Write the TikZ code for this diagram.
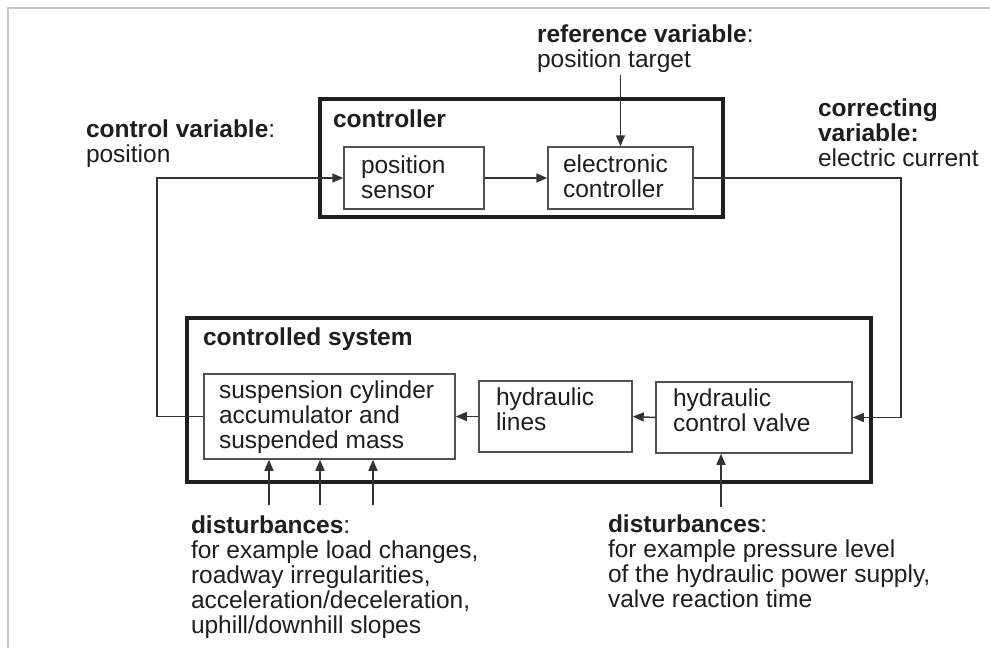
\documentclass[tikz,border=0pt]{standalone}
\usepackage{fontspec}
\setmainfont{Liberation Sans}
\usetikzlibrary{arrows.meta}
\definecolor{ink}{HTML}{1E1E1E}
\definecolor{wire}{HTML}{333333}
\definecolor{thin}{HTML}{505050}
\definecolor{frame}{HTML}{C8C8C8}
\begin{document}
\begin{tikzpicture}[x=1pt,y=-1pt,
  txt/.style={anchor=north west, inner sep=0pt, outer sep=0pt, align=left,
    font=\fontsize{24.5}{25}\selectfont, text=ink,
    execute at begin node=\rule{0pt}{18pt}},
  group/.style={draw=ink, line width=4pt, inner sep=0pt},
  block/.style={draw=thin, line width=1.5pt, inner sep=0pt},
  conn/.style={draw=wire, line width=1.5pt},
  arr/.style={conn, -{Triangle[length=11pt,width=9pt]}}]
\useasboundingbox (0,0) rectangle (990,648);

% page frame (top and left edges only)
\draw[frame, line width=2pt] (8,648) -- (8,8) -- (990,8);

% controller group
\node[group, minimum width=403pt, minimum height=118pt] (ctrl) at (521.5,158) {};
\node[txt] (ctrlT) at (333,109) {\textbf{controller}};
\node[block, minimum width=140pt, minimum height=62pt] (ps) at (414,178) {};
\node[txt] (psT) at (361,156) {position\\sensor};
\node[block, minimum width=145pt, minimum height=62pt] (ec) at (620.5,178) {};
\node[txt] (ecT) at (563,155) {electronic\\controller};

% controlled system group
\node[group, minimum width=684pt, minimum height=164pt] (sys) at (529,400) {};
\node[txt] (sysT) at (203,327) {\textbf{controlled system}};
\node[block, minimum width=251pt, minimum height=85pt] (susp) at (329.5,416.5) {};
\node[txt] (suspT) at (219,381) {suspension cylinder\\accumulator and\\suspended mass};
\node[block, minimum width=153pt, minimum height=71pt] (lines) at (555.5,416.5) {};
\node[txt] (linesT) at (496,388) {hydraulic\\lines};
\node[block, minimum width=196pt, minimum height=71pt] (valve) at (754,417.5) {};
\node[txt] (valveT) at (673,389) {hydraulic\\control valve};

% signal labels
\node[txt] (cv) at (86,120) {\textbf{control variable}:\\position};
\node[txt] (ref) at (537,25) {\textbf{reference variable}:\\position target};
\node[txt] (corr) at (818,99) {\textbf{correcting}\\\textbf{variable:}\\electric current};
\node[txt] (distL) at (191,516) {\textbf{disturbances}:\\for example load changes,\\roadway irregularities,\\acceleration/deceleration,\\uphill/downhill slopes};
\node[txt] (distR) at (608,515) {\textbf{disturbances}:\\for example pressure level\\of the hydraulic power supply,\\valve reaction time};

% routing points
\coordinate (fbx) at (157,0);
\coordinate (rx) at (901,0);
\coordinate (refin) at (620.5,75);
\coordinate (d1) at (269,505);
\coordinate (d2) at (320,505);
\coordinate (d3) at (373,505);
\coordinate (d4) at (721,507);

% signal flow
\draw[arr] (susp.west) -- (susp.west -| fbx) |- (ps.west);
\draw[arr] (ps.east) -- (ec.west);
\draw[arr] (ec.east) -- (ec.east -| rx) |- (valve.east);
\draw[arr] (valve.west) -- (lines.east);
\draw[arr] (lines.west) -- (susp.east);
\draw[arr] (refin) -- (ec.north);
\draw[arr] (d1) -- (d1 |- susp.south);
\draw[arr] (d2) -- (d2 |- susp.south);
\draw[arr] (d3) -- (d3 |- susp.south);
\draw[arr] (d4) -- (d4 |- valve.south);
\end{tikzpicture}
\end{document}
